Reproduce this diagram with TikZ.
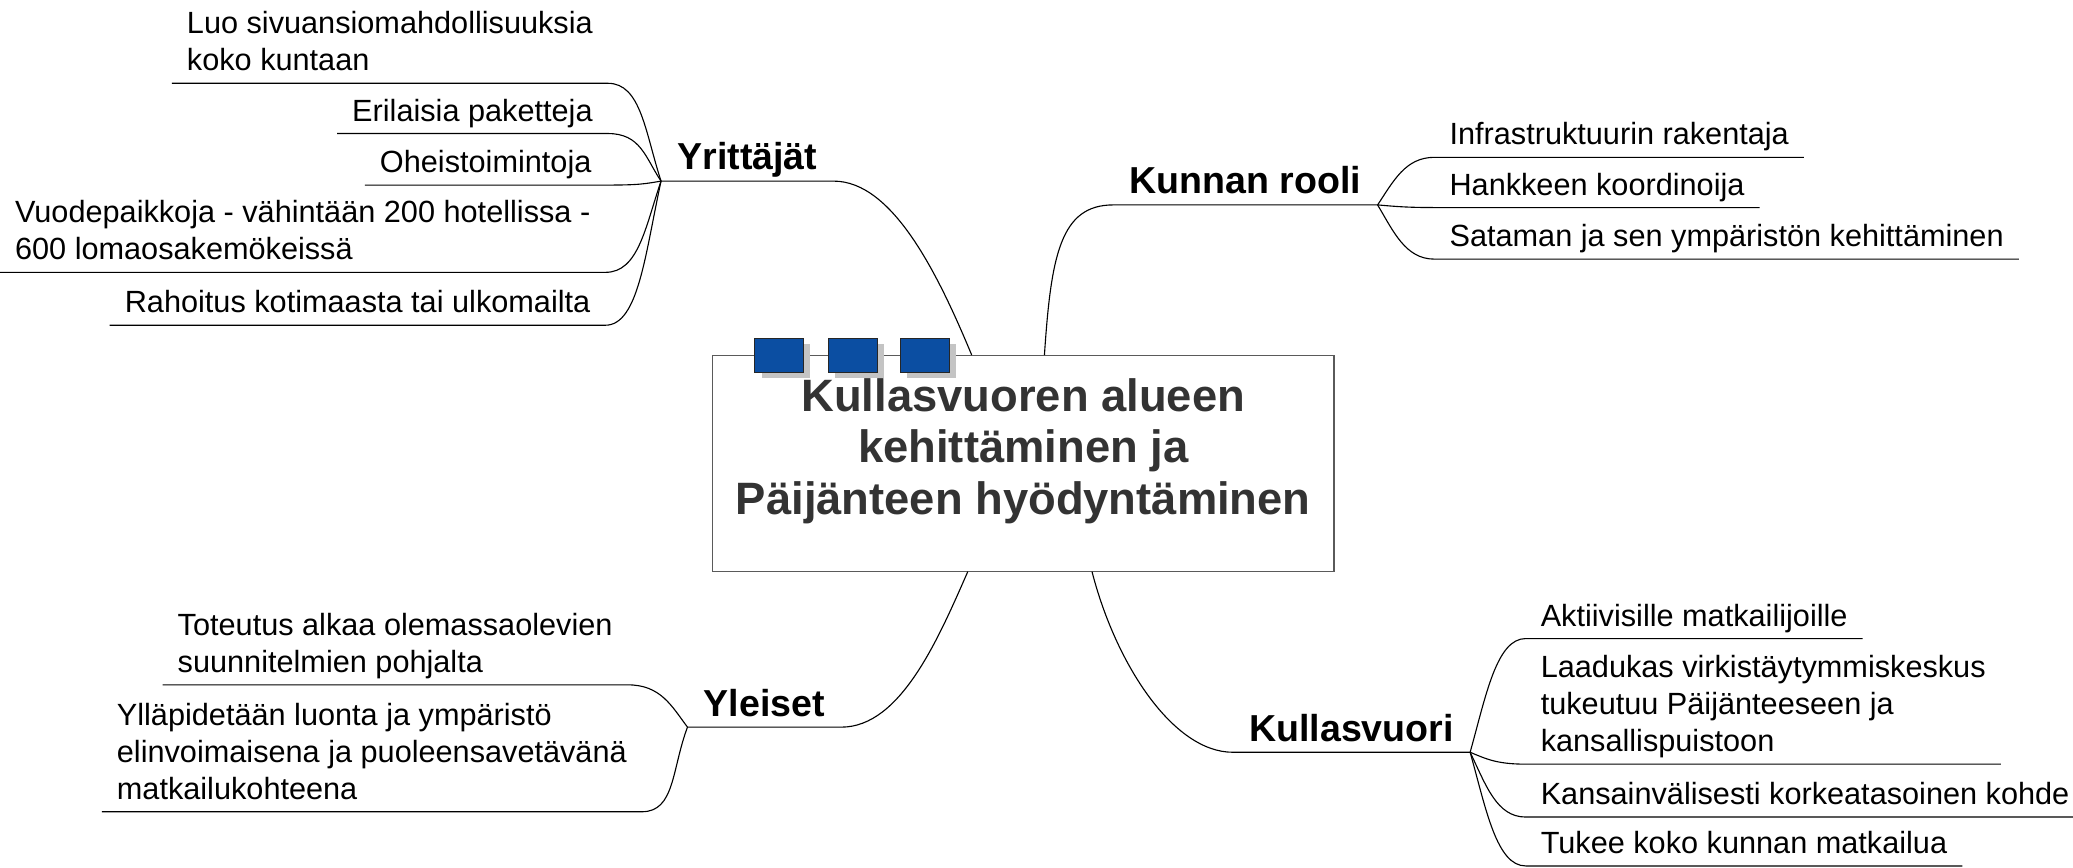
\documentclass[tikz,border=0pt]{standalone}
\usepackage{fontspec}
\setmainfont{Liberation Sans}
\usetikzlibrary{calc,shadows}
\definecolor{titlegray}{HTML}{333333}
\definecolor{boxgray}{HTML}{5A5A5A}
\definecolor{squareblue}{HTML}{0B4EA2}
\definecolor{shadowgray}{HTML}{C4C4C4}

\begin{document}
\begin{tikzpicture}[x=0.025cm,y=-0.025cm,line width=0.6pt,
    leaf/.style={anchor=south west, align=left, inner xsep=0.275cm, inner ysep=0.225cm,
      text depth=0pt, font=\fontsize{16.5pt}{19.9pt}\selectfont},
    branch/.style={inner xsep=0.3cm, inner ysep=0.2cm, text depth=0pt,
      font=\fontsize{20.2pt}{24pt}\selectfont\bfseries},
    titlebox/.style={draw=boxgray, fill=white, minimum width=11.75cm, minimum height=4.075cm},
    titletext/.style={align=center, text=titlegray, font=\fontsize{24.4pt}{27.7pt}\selectfont\bfseries},
    bluesq/.style={draw=black!85, fill=squareblue, minimum width=0.925cm, minimum height=0.65cm,
      inner sep=0pt, drop shadow={shadow xshift=0.125cm, shadow yshift=-0.1cm, fill=shadowgray, opacity=1}}]
  \useasboundingbox (0,0) rectangle (1568,656);

  % Central topic
  \node[titlebox] (title) at (774,350.5) {};
  \node[titletext] (titletext) at (774,341) {Kullasvuoren alueen\\kehittäminen ja\\Päijänteen hyödyntäminen};
  \node[bluesq] (sq1) at (589.5,269) {};
  \node[bluesq] (sq2) at (645,269) {};
  \node[bluesq] (sq3) at (699.5,269) {};

  % Where the branches leave the box
  \coordinate (yrIn) at ($(title.north)+(-39,0)$);
  \coordinate (krIn) at ($(title.north)+(16,0)$);
  \coordinate (ylIn) at ($(title.south)+(-42,0)$);
  \coordinate (kvIn) at ($(title.south)+(52,0)$);

  % Main branches
  \node[branch, anchor=south west] (yr) at (500,137) {Yrittäjät};
  \node[branch, anchor=south east] (kr) at (1042,155) {Kunnan rooli};
  \node[branch, anchor=south west] (yl) at (520,550) {Yleiset};
  \node[branch, anchor=south east] (kv) at (1112,569) {Kullasvuori};
  \draw (yr.south west) -- (yr.south east) .. controls +(45,0) and +(-25,-60) .. (yrIn);
  \draw (krIn) .. controls +(5,-75) and +(-40,0) .. (kr.south west) -- (kr.south east);
  \draw (yl.south west) -- (yl.south east) .. controls +(45,0) and +(-22,50) .. (ylIn);
  \draw (kvIn) .. controls +(18,70) and +(-45,0) .. (kv.south west) -- (kv.south east);

  % Yrittäjät
  \node[leaf] (yr1) at (130,63) {Luo sivuansiomahdollisuuksia\\koko kuntaan};
  \node[leaf] (yr2) at (255,101) {Erilaisia paketteja};
  \node[leaf] (yr3) at (276,140) {Oheistoimintoja};
  \node[leaf] (yr4) at (0,206) {Vuodepaikkoja - vähintään 200 hotellissa -\\600 lomaosakemökeissä};
  \node[leaf] (yr5) at (83,246) {Rahoitus kotimaasta tai ulkomailta};
  \foreach \l/\dy in {yr1/-37, yr2/-18, yr3/2, yr4/35, yr5/55}
    \draw (\l.south west) -- (\l.south east) .. controls +(25,0) and +(-12,\dy) .. (yr.south west);

  % Kunnan rooli
  \node[leaf] (kr1) at (1085,119) {Infrastruktuurin rakentaja};
  \node[leaf] (kr2) at (1085,157) {Hankkeen koordinoija};
  \node[leaf] (kr3) at (1085,196) {Sataman ja sen ympäristön kehittäminen};
  \foreach \l/\dy in {kr1/-18, kr2/1, kr3/20}
    \draw (kr.south east) .. controls +(12,\dy) and +(-22,0) .. (\l.south west) -- (\l.south east);

  % Yleiset
  \node[leaf] (yl1) at (123,518) {Toteutus alkaa olemassaolevien\\suunnitelmien pohjalta};
  \node[leaf] (yl2) at (77,614) {Ylläpidetään luonta ja ympäristö\\elinvoimaisena ja puoleensavetävänä\\matkailukohteena};
  \foreach \l/\dy in {yl1/-16, yl2/32}
    \draw (\l.south west) -- (\l.south east) .. controls +(25,0) and +(-12,\dy) .. (yl.south west);

  % Kullasvuori
  \node[leaf] (kv1) at (1154,483) {Aktiivisille matkailijoille};
  \node[leaf] (kv2) at (1154,578) {Laadukas virkistäytymmiskeskus\\tukeutuu Päijänteeseen ja\\kansallispuistoon};
  \node[leaf] (kv3) at (1154,618) {Kansainvälisesti korkeatasoinen kohde};
  \node[leaf] (kv4) at (1154,655) {Tukee koko kunnan matkailua};
  \foreach \l/\dy in {kv1/-43, kv2/5, kv3/25, kv4/43}
    \draw (kv.south east) .. controls +(12,\dy) and +(-22,0) .. (\l.south west) -- (\l.south east);
\end{tikzpicture}
\end{document}
